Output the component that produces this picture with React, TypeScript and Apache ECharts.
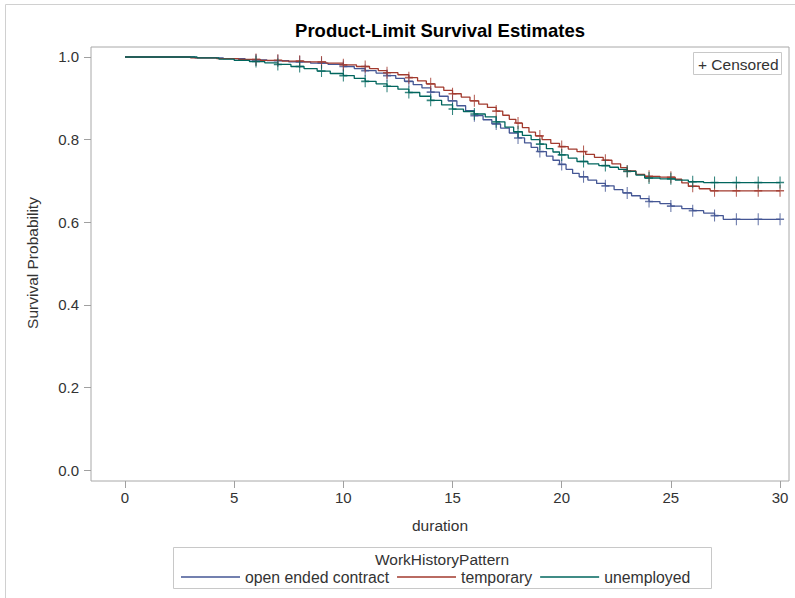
import React, { useEffect, useRef } from "react";
import * as echarts from "echarts";

const seriesNames = ["open ended contract", "temporary", "unemployed"];
const seriesColors = ["#445694", "#A23A2E", "#01665E"];

const openEndedSteps: [number, number][] = [
  [0, 1.0], [3.2, 0.998], [4.5, 0.996], [5.5, 0.993], [6.5, 0.991], [7.5, 0.988], [8.5, 0.985], [9.3, 0.982],
  [10.0, 0.977], [10.5, 0.972], [11.0, 0.967], [11.5, 0.961], [12.0, 0.955], [12.4, 0.948], [12.8, 0.941],
  [13.2, 0.933], [13.6, 0.925], [14.0, 0.915], [14.4, 0.905], [14.8, 0.894], [15.2, 0.882], [15.6, 0.870],
  [16.0, 0.858], [16.4, 0.848], [16.8, 0.838], [17.2, 0.828], [17.6, 0.816], [18.0, 0.804], [18.3, 0.792],
  [18.6, 0.781], [18.9, 0.771], [19.3, 0.760], [19.6, 0.750], [19.9, 0.740], [20.2, 0.728], [20.5, 0.718],
  [20.8, 0.710], [21.2, 0.702], [21.6, 0.694], [22.0, 0.688], [22.4, 0.679], [22.8, 0.671], [23.2, 0.664],
  [23.6, 0.657], [24.0, 0.650], [24.5, 0.645], [25.0, 0.639], [25.5, 0.633], [26.0, 0.628], [26.5, 0.622],
  [27.0, 0.616], [27.4, 0.607], [30, 0.607],
];

const temporarySteps: [number, number][] = [
  [0, 1.0], [3.0, 0.998], [4.2, 0.996], [5.2, 0.994], [6.2, 0.992], [7.2, 0.99], [8.2, 0.988], [9.2, 0.985],
  [10.0, 0.981], [10.6, 0.977], [11.2, 0.972], [11.6, 0.967], [12.0, 0.962], [12.5, 0.957], [13.0, 0.95],
  [13.4, 0.942], [13.8, 0.935], [14.2, 0.927], [14.6, 0.919], [15.0, 0.911], [15.4, 0.903], [15.8, 0.894],
  [16.2, 0.886], [16.6, 0.878], [17.0, 0.869], [17.3, 0.859], [17.6, 0.849], [17.9, 0.84], [18.2, 0.829],
  [18.5, 0.818], [18.8, 0.809], [19.1, 0.8], [19.5, 0.791], [19.9, 0.783], [20.3, 0.777], [20.7, 0.771],
  [21.1, 0.764], [21.5, 0.757], [21.9, 0.75], [22.3, 0.741], [22.7, 0.732], [23.0, 0.724], [23.4, 0.716],
  [23.8, 0.711], [24.5, 0.709], [25.2, 0.704], [25.5, 0.695], [25.8, 0.687], [26.3, 0.681], [26.8, 0.676],
  [30, 0.676],
];

const unemployedSteps: [number, number][] = [
  [0, 1.0], [3.3, 0.998], [4.3, 0.995], [5.0, 0.992], [5.7, 0.989], [6.4, 0.986], [7.0, 0.982], [7.6, 0.977],
  [8.2, 0.972], [8.8, 0.966], [9.4, 0.96], [10.0, 0.955], [10.5, 0.948], [11.0, 0.941], [11.5, 0.935],
  [12.0, 0.929], [12.5, 0.922], [13.0, 0.914], [13.5, 0.905], [14.0, 0.895], [14.5, 0.884], [15.0, 0.874],
  [15.5, 0.868], [16.0, 0.862], [16.5, 0.855], [17.0, 0.843], [17.4, 0.83], [17.8, 0.819], [18.2, 0.81],
  [18.6, 0.8], [19.0, 0.789], [19.3, 0.778], [19.6, 0.77], [19.9, 0.763], [20.3, 0.755], [20.7, 0.747],
  [21.2, 0.741], [21.7, 0.737], [22.2, 0.733], [22.6, 0.728], [23.0, 0.723], [23.4, 0.714], [23.8, 0.707],
  [24.5, 0.705], [25.2, 0.702], [25.8, 0.698], [26.5, 0.696], [30, 0.696],
];

const censorTimes = [6, 7, 8, 9, 10, 11, 12, 13, 14, 15, 16, 17, 18, 19, 20, 21, 22, 23, 24, 25, 26, 27, 28, 29, 30];

const xTicks = [0, 5, 10, 15, 20, 25, 30];
const yTicks = [0, 0.2, 0.4, 0.6, 0.8, 1.0];
const xRange = [-1.557, 30.41];
const yRange = [-0.0266, 1.0242];

const allSteps = [openEndedSteps, temporarySteps, unemployedSteps];

function survivalAt(steps: [number, number][], t: number): number {
  let s = steps[0][1];
  for (const [st, sv] of steps) {
    if (st <= t) s = sv;
  }
  return s;
}

const FONT = "'Liberation Sans', Arial, Helvetica, sans-serif";

export default function App() {
  const ref = useRef<HTMLDivElement>(null);
  useEffect(() => {
    if (!ref.current) return;
    const chart = echarts.init(ref.current, undefined, { renderer: "svg" });
    const lineSeries = allSteps.map((steps, i) => ({
      name: seriesNames[i],
      type: "line",
      step: "end",
      symbol: "none",
      data: steps,
      lineStyle: { color: seriesColors[i], width: 1.3 },
      itemStyle: { color: seriesColors[i] },
      z: 3,
    }));
    const censorSeries = allSteps.map((steps, i) => ({
      name: seriesNames[i] + " censored",
      type: "scatter",
      symbol: "path://M5,0 L5,10 M0,5 L10,5",
      symbolSize: [8, 12],
      data: censorTimes.map((t) => [t, survivalAt(steps, t)]),
      itemStyle: { color: "none", borderColor: seriesColors[i], borderWidth: 1.3 },
      z: 4,
    }));
    chart.setOption({
      animation: false,
      backgroundColor: "#ffffff",
      textStyle: { fontFamily: FONT },
      grid: {
        left: 91,
        right: 6,
        top: 47,
        bottom: 117,
        show: true,
        borderColor: "#a8a8a8",
        borderWidth: 1,
        containLabel: false,
      },
      xAxis: {
        type: "value",
        min: xRange[0],
        max: xRange[1],
        position: "bottom",
        axisLine: { show: false, onZero: false },
        axisTick: { show: true, length: 7, customValues: xTicks, lineStyle: { color: "#a0a0a0" } },
        axisLabel: { margin: 9, fontSize: 15, color: "#333", fontFamily: FONT, customValues: xTicks },
        splitLine: { show: false },
      },
      yAxis: {
        type: "value",
        min: yRange[0],
        max: yRange[1],
        position: "left",
        axisLine: { show: false, onZero: false },
        axisTick: { show: true, length: 7, customValues: yTicks, lineStyle: { color: "#a0a0a0" } },
        axisLabel: {
          margin: 12,
          fontSize: 15,
          color: "#333",
          fontFamily: FONT,
          customValues: yTicks,
          formatter: (v: number) => v.toFixed(1),
        },
        splitLine: { show: false },
      },
      legend: {
        data: seriesNames,
        icon: "rect",
        left: 181,
        top: 569,
        itemWidth: 59,
        itemHeight: 1.5,
        itemGap: 8,
        padding: 0,
        textStyle: { fontSize: 15.8, color: "#333", fontFamily: FONT },
      },
      graphic: [
        {
          type: "rect",
          shape: { x: 5.5, y: 4.5, width: 800, height: 600 },
          style: { fill: "none", stroke: "#d0d0d0", lineWidth: 1 },
          silent: true,
          z: 0,
        },
        {
          type: "text",
          x: 440,
          y: 30,
          style: {
            text: "Product-Limit Survival Estimates",
            font: `bold 18.5px ${FONT}`,
            fill: "#000",
            align: "center",
            verticalAlign: "middle",
          },
        },
        {
          type: "text",
          x: 32,
          y: 263,
          rotation: Math.PI / 2,
          style: {
            text: "Survival Probability",
            font: `15.5px ${FONT}`,
            fill: "#333",
            align: "center",
            verticalAlign: "middle",
          },
        },
        {
          type: "text",
          x: 440,
          y: 525,
          style: {
            text: "duration",
            font: `15.5px ${FONT}`,
            fill: "#333",
            align: "center",
            verticalAlign: "middle",
          },
        },
        {
          type: "rect",
          shape: { x: 693.5, y: 52.5, width: 88, height: 22 },
          style: { fill: "#fff", stroke: "#c8c8c8", lineWidth: 1 },
          z: 10,
        },
        {
          type: "text",
          x: 698,
          y: 64,
          z: 11,
          style: {
            text: "+ Censored",
            font: `15.5px ${FONT}`,
            fill: "#333",
            align: "left",
            verticalAlign: "middle",
          },
        },
        {
          type: "rect",
          shape: { x: 173.5, y: 547.5, width: 538, height: 41 },
          style: { fill: "none", stroke: "#c8c8c8", lineWidth: 1 },
        },
        {
          type: "text",
          x: 442,
          y: 559,
          style: {
            text: "WorkHistoryPattern",
            font: `15.5px ${FONT}`,
            fill: "#333",
            align: "center",
            verticalAlign: "middle",
          },
        },
      ],
      series: [...lineSeries, ...censorSeries],
    });
    return () => chart.dispose();
  }, []);
  return (
    <div
      ref={ref}
      style={{ position: "fixed", left: 0, top: 0, width: 795, height: 598, background: "#fff" }}
    />
  );
}
